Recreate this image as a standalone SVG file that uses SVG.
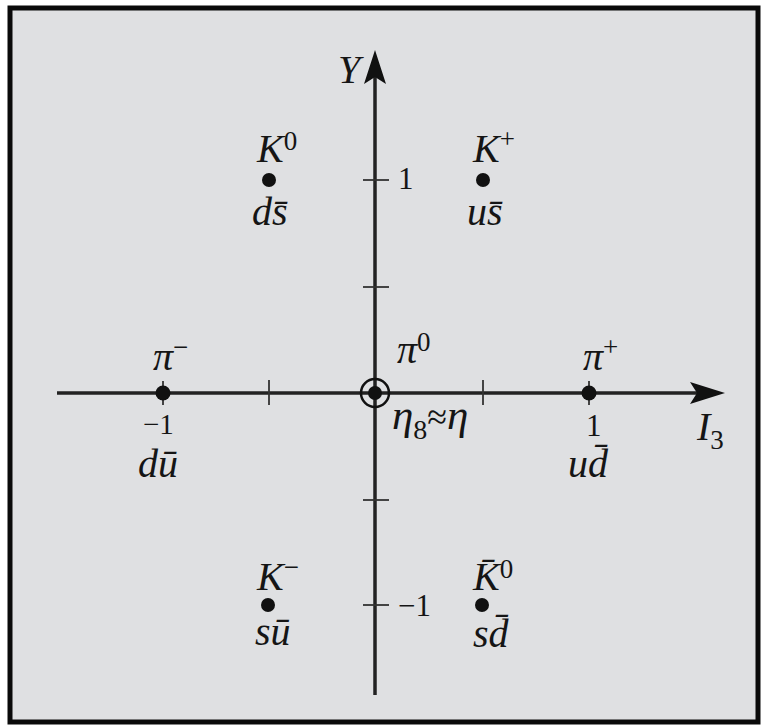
<svg xmlns="http://www.w3.org/2000/svg" width="763" height="726" viewBox="0 0 763 726">
<defs>
<style>
.it{font-family:"Liberation Serif","Times New Roman",serif;font-style:italic;font-size:40px;fill:#151515}
.rm{font-family:"Liberation Serif","Times New Roman",serif;font-style:normal;fill:#151515}
.sup{font-family:"Liberation Serif","Times New Roman",serif;font-style:normal;font-size:27px}
.axis{stroke:#222;stroke-width:3.5;fill:none}
.tick{stroke:#333;stroke-width:1.8;fill:none}
.dot{fill:#111}
</style>
</defs>
<rect x="0" y="0" width="763" height="726" fill="#ffffff"/>
<rect x="10" y="8" width="748" height="714" fill="#dfe0e2" stroke="#0a0a0a" stroke-width="5"/>
<g id="axes">
<line class="axis" x1="57" y1="393" x2="700" y2="393"/>
<path d="M725,393 L690,382 L697,393 L690,404 Z" fill="#111"/>
<line class="axis" x1="375" y1="695" x2="375" y2="76"/>
<path d="M375,50 L364,84 L375,77 L386,84 Z" fill="#111"/>
<line class="tick" x1="163" y1="381" x2="163" y2="405"/>
<line class="tick" x1="269" y1="380" x2="269" y2="405"/>
<line class="tick" x1="483" y1="380" x2="483" y2="405"/>
<line class="tick" x1="589" y1="381" x2="589" y2="405"/>
<line class="tick" x1="363" y1="180" x2="389" y2="180"/>
<line class="tick" x1="363" y1="287" x2="389" y2="287"/>
<line class="tick" x1="363" y1="500" x2="389" y2="500"/>
<line class="tick" x1="363" y1="605" x2="389" y2="605"/>
<text class="it" x="338" y="83">Y</text>
<text class="it" x="697" y="440">I<tspan class="sup" dy="9">3</tspan></text>
<text class="rm" style="font-size:31px" x="398" y="189">1</text>
<text class="rm" style="font-size:31px" x="398" y="616">−1</text>
<text class="rm" style="font-size:29px" x="143" y="434">−1</text>
<text class="rm" style="font-size:31px" x="586" y="436">1</text>
</g>
<g id="K0">
<circle class="dot" cx="269" cy="180" r="7"/>
<text class="it" x="257" y="162">K<tspan class="sup" dy="-12">0</tspan></text>
<text class="it" x="252" y="225">ds̄</text>
</g>
<g id="Kplus">
<circle class="dot" cx="483" cy="180" r="7"/>
<text class="it" x="473" y="162">K<tspan class="sup" dy="-14">+</tspan></text>
<text class="it" x="467" y="225">us̄</text>
</g>
<g id="piminus">
<circle class="dot" cx="163" cy="393" r="7.5"/>
<text class="it" x="153" y="370">π<tspan class="sup" dy="-14">−</tspan></text>
<text class="it" x="138" y="477">dū</text>
</g>
<g id="pi0eta">
<circle cx="375" cy="393" r="14" fill="none" stroke="#111" stroke-width="2.5"/>
<circle class="dot" cx="375" cy="393" r="7"/>
<text class="it" x="397" y="363">π<tspan class="sup" dy="-12">0</tspan></text>
<text class="it" x="392" y="429" style="font-size:43px">η<tspan class="sup" style="font-size:28px" dy="10">8</tspan><tspan class="rm" style="font-size:36px" dy="-10">≈</tspan>η</text>
</g>
<g id="piplus">
<circle class="dot" cx="589" cy="393" r="7.5"/>
<text class="it" x="583" y="370">π<tspan class="sup" dy="-14">+</tspan></text>
<text class="it" x="568" y="477">ud̄</text>
</g>
<g id="Kminus">
<circle class="dot" cx="268" cy="605" r="7"/>
<text class="it" x="257" y="590">K<tspan class="sup" dy="-14">−</tspan></text>
<text class="it" x="255" y="645">sū</text>
</g>
<g id="K0bar">
<circle class="dot" cx="482" cy="605" r="7"/>
<text class="it" x="473" y="590">K̄<tspan class="sup" dy="-12">0</tspan></text>
<text class="it" x="473" y="647">sd̄</text>
</g>
</svg>
